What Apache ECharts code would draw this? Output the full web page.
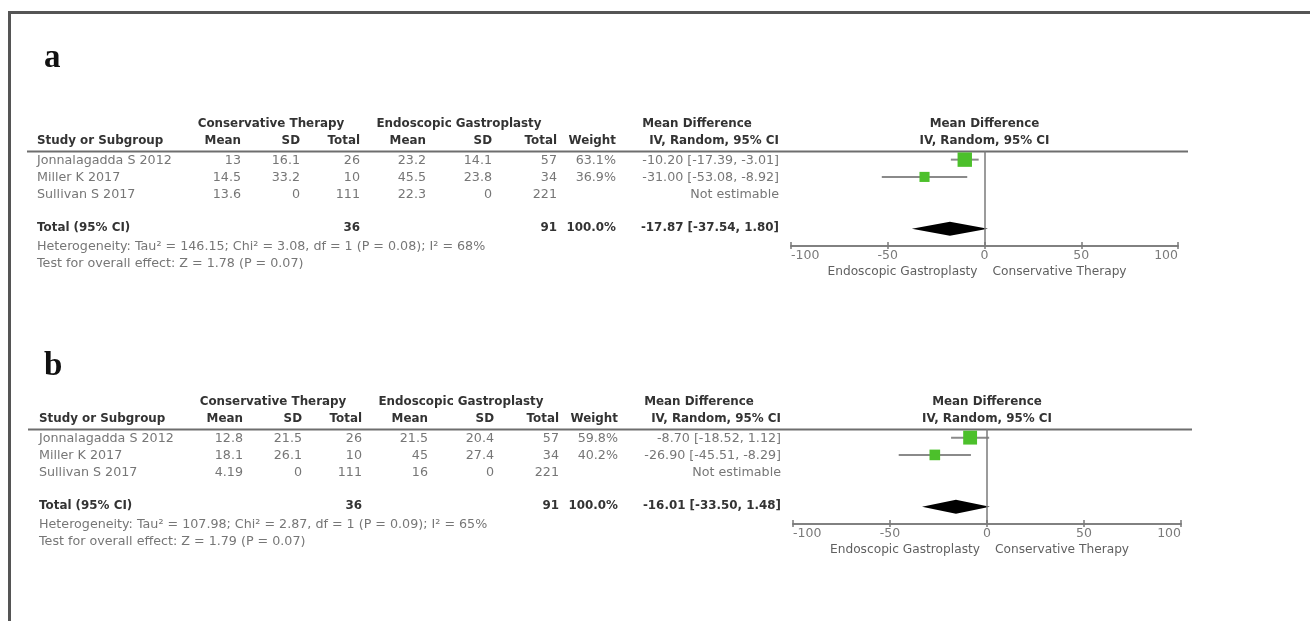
<!DOCTYPE html>
<html>
<head>
<meta charset="utf-8">
<title>Forest plots</title>
<script src="https://cdn.jsdelivr.net/npm/echarts@6/dist/echarts.min.js"></script>
<style>
  html, body { margin: 0; padding: 0; background: #ffffff; }
  #chart { width: 1310px; height: 621px; }
</style>
</head>
<body>
<div id="chart"></div>
<script>
// ---- study data ----
const studies = ['Jonnalagadda S 2012', 'Miller K 2017', 'Sullivan S 2017'];
const consTotal = [26, 10, 111];
const endoTotal = [57, 34, 221];
const axisTicks = [-100, -50, 0, 50, 100];

// panel a
const consMeanA = ['13', '14.5', '13.6'];
const consSdA = ['16.1', '33.2', '0'];
const endoMeanA = ['23.2', '45.5', '22.3'];
const endoSdA = ['14.1', '23.8', '0'];
const weightA = [63.1, 36.9, null];
const mdA = [-10.20, -31.00, null];
const loA = [-17.39, -53.08, null];
const hiA = [-3.01, -8.92, null];
const pooledA = [-17.87, -37.54, 1.80];
const hetA = 'Heterogeneity: Tau² = 146.15; Chi² = 3.08, df = 1 (P = 0.08); I² = 68%';
const testA = 'Test for overall effect: Z = 1.78 (P = 0.07)';

// panel b
const consMeanB = ['12.8', '18.1', '4.19'];
const consSdB = ['21.5', '26.1', '0'];
const endoMeanB = ['21.5', '45', '16'];
const endoSdB = ['20.4', '27.4', '0'];
const weightB = [59.8, 40.2, null];
const mdB = [-8.70, -26.90, null];
const loB = [-18.52, -45.51, null];
const hiB = [1.12, -8.29, null];
const pooledB = [-16.01, -33.50, 1.48];
const hetB = 'Heterogeneity: Tau² = 107.98; Chi² = 2.87, df = 1 (P = 0.09); I² = 65%';
const testB = 'Test for overall effect: Z = 1.79 (P = 0.07)';

const panels = [
  { letter: 'a', consMean: consMeanA, consSd: consSdA, endoMean: endoMeanA, endoSd: endoSdA,
    weight: weightA, md: mdA, lo: loA, hi: hiA, pooled: pooledA, het: hetA, test: testA,
    dx: 0, dy: 0, letterY: 58, line: [27, 1188, 151], grid: { left: 791, width: 387, top: 151, height: 95 } },
  { letter: 'b', consMean: consMeanB, consSd: consSdB, endoMean: endoMeanB, endoSd: endoSdB,
    weight: weightB, md: mdB, lo: loB, hi: hiB, pooled: pooledB, het: hetB, test: testB,
    dx: 2, dy: 278, letterY: 366, line: [28, 1192, 429], grid: { left: 793, width: 388, top: 429, height: 95 } }
];

// ---- styles ----
const FONT = "'DejaVu Sans', 'Open Sans', sans-serif";
const DATA_FONT = '12.7px ' + FONT;
const BOLD_FONT = 'bold 11.9px ' + FONT;
const NAME_FONT = '12.2px ' + FONT;
const GREY = '#767676';
const DARK = '#333333';
const BOX_GREEN = '#4cc02b';

function txt(text, x, y, align, font, fill) {
  return {
    type: 'text', x: x, y: y, silent: true,
    style: { text: text, font: font, fill: fill, textAlign: align, textVerticalAlign: 'middle' }
  };
}

const fmt = v => v.toFixed(2);
const ciText = (m, l, h) => fmt(m) + ' [' + fmt(l) + ', ' + fmt(h) + ']';

const graphics = [];
// outer frame (top and left edges)
graphics.push({
  type: 'polyline', silent: true,
  shape: { points: [[9.5, 621], [9.5, 12.5], [1310, 12.5]] },
  style: { stroke: '#555555', lineWidth: 3, fill: null }
});

// table columns: right edges
const col = { cMean: 241, cSd: 300, cTot: 360, eMean: 426, eSd: 492, eTot: 557, wt: 616, ci: 779 };
const rowY = [161, 178, 195];

panels.forEach(function (p) {
  const X = v => v + p.dx;
  const Y = v => v + p.dy;
  graphics.push({
    type: 'text', x: 44, y: p.letterY, silent: true,
    style: { text: p.letter, font: 'bold 33px "Liberation Serif", serif', fill: '#111', textAlign: 'left', textVerticalAlign: 'middle' }
  });
  // headers
  graphics.push(txt('Conservative Therapy', X(271), Y(124), 'center', BOLD_FONT, DARK));
  graphics.push(txt('Endoscopic Gastroplasty', X(459), Y(124), 'center', BOLD_FONT, DARK));
  graphics.push(txt('Mean Difference', X(697), Y(124), 'center', BOLD_FONT, DARK));
  graphics.push(txt('Mean Difference', p.grid.left + p.grid.width / 2, Y(124), 'center', BOLD_FONT, DARK));
  graphics.push(txt('Study or Subgroup', X(37), Y(141), 'left', BOLD_FONT, DARK));
  graphics.push(txt('Mean', X(col.cMean), Y(141), 'right', BOLD_FONT, DARK));
  graphics.push(txt('SD', X(col.cSd), Y(141), 'right', BOLD_FONT, DARK));
  graphics.push(txt('Total', X(col.cTot), Y(141), 'right', BOLD_FONT, DARK));
  graphics.push(txt('Mean', X(col.eMean), Y(141), 'right', BOLD_FONT, DARK));
  graphics.push(txt('SD', X(col.eSd), Y(141), 'right', BOLD_FONT, DARK));
  graphics.push(txt('Total', X(col.eTot), Y(141), 'right', BOLD_FONT, DARK));
  graphics.push(txt('Weight', X(col.wt), Y(141), 'right', BOLD_FONT, DARK));
  graphics.push(txt('IV, Random, 95% CI', X(col.ci), Y(141), 'right', BOLD_FONT, DARK));
  graphics.push(txt('IV, Random, 95% CI', p.grid.left + p.grid.width / 2, Y(141), 'center', BOLD_FONT, DARK));
  // rule under headers
  graphics.push({
    type: 'line', silent: true,
    shape: { x1: p.line[0], y1: p.line[2] + 0.5, x2: p.line[1], y2: p.line[2] + 0.5 },
    style: { stroke: '#6e6e6e', lineWidth: 2 }
  });
  // study rows
  studies.forEach(function (s, i) {
    const y = Y(rowY[i]);
    graphics.push(txt(s, X(37), y, 'left', DATA_FONT, GREY));
    graphics.push(txt(p.consMean[i], X(col.cMean), y, 'right', DATA_FONT, GREY));
    graphics.push(txt(p.consSd[i], X(col.cSd), y, 'right', DATA_FONT, GREY));
    graphics.push(txt(String(consTotal[i]), X(col.cTot), y, 'right', DATA_FONT, GREY));
    graphics.push(txt(p.endoMean[i], X(col.eMean), y, 'right', DATA_FONT, GREY));
    graphics.push(txt(p.endoSd[i], X(col.eSd), y, 'right', DATA_FONT, GREY));
    graphics.push(txt(String(endoTotal[i]), X(col.eTot), y, 'right', DATA_FONT, GREY));
    if (p.weight[i] != null) {
      graphics.push(txt(p.weight[i].toFixed(1) + '%', X(col.wt), y, 'right', DATA_FONT, GREY));
      graphics.push(txt(ciText(p.md[i], p.lo[i], p.hi[i]), X(col.ci), y, 'right', DATA_FONT, GREY));
    } else {
      graphics.push(txt('Not estimable', X(col.ci), y, 'right', DATA_FONT, GREY));
    }
  });
  // pooled row
  const sumC = consTotal.slice(0, 2).reduce((a, b) => a + b, 0);
  const sumE = endoTotal.slice(0, 2).reduce((a, b) => a + b, 0);
  const wSum = p.weight.filter(w => w != null).reduce((a, b) => a + b, 0);
  graphics.push(txt('Total (95% CI)', X(37), Y(228), 'left', BOLD_FONT, DARK));
  graphics.push(txt(String(sumC), X(col.cTot), Y(228), 'right', BOLD_FONT, DARK));
  graphics.push(txt(String(sumE), X(col.eTot), Y(228), 'right', BOLD_FONT, DARK));
  graphics.push(txt(wSum.toFixed(1) + '%', X(col.wt), Y(228), 'right', BOLD_FONT, DARK));
  graphics.push(txt(ciText(p.pooled[0], p.pooled[1], p.pooled[2]), X(col.ci), Y(228), 'right', BOLD_FONT, DARK));
  graphics.push(txt(p.het, X(37), Y(247), 'left', DATA_FONT, GREY));
  graphics.push(txt(p.test, X(37), Y(264), 'left', DATA_FONT, GREY));
  // favours labels under the axis
  const zeroX = p.grid.left + p.grid.width / 2;
  graphics.push(txt('Endoscopic Gastroplasty', zeroX - 7, Y(272), 'right', NAME_FONT, '#606060'));
  graphics.push(txt('Conservative Therapy', zeroX + 8, Y(272), 'left', NAME_FONT, '#606060'));
});

// ---- axes and series ----
const grids = [], xAxes = [], yAxes = [], series = [];
panels.forEach(function (p, g) {
  grids.push({ left: p.grid.left, top: p.grid.top, width: p.grid.width, height: p.grid.height, containLabel: false });
  const axisBase = {
    type: 'value', gridIndex: g, min: axisTicks[0], max: axisTicks[axisTicks.length - 1],
    interval: axisTicks[1] - axisTicks[0], position: 'bottom', offset: 0,
    splitLine: { show: false },
    axisLine: { show: true, onZero: false, lineStyle: { color: '#7a7a7a', width: 1.5 } }
  };
  xAxes.push(Object.assign({}, axisBase, {
    axisTick: { show: true, inside: true, length: 4, lineStyle: { color: '#7a7a7a', width: 1.5 } },
    axisLabel: { show: true, margin: 3, color: '#7a7a7a', fontFamily: FONT, fontSize: 12.5,
      alignMinLabel: 'left', alignMaxLabel: 'right' }
  }));
  xAxes.push(Object.assign({}, axisBase, {
    axisTick: { show: true, inside: false, length: 3, lineStyle: { color: '#7a7a7a', width: 1.5 } },
    axisLabel: { show: false }
  }));
  yAxes.push({
    type: 'value', gridIndex: g, inverse: true, min: 0.5, max: 6,
    show: false, splitLine: { show: false }
  });

  const ciData = [], boxData = [];
  p.md.forEach(function (m, i) {
    if (m == null) return;
    ciData.push([p.lo[i], p.hi[i], i + 1]);
    boxData.push([m, i + 1, p.weight[i]]);
  });
  series.push({
    type: 'custom', xAxisIndex: 2 * g, yAxisIndex: g, data: ciData, z: 2,
    encode: { x: [0, 1], y: 2 },
    renderItem: function (params, api) {
      const a = api.coord([api.value(0), api.value(2)]);
      const b = api.coord([api.value(1), api.value(2)]);
      return { type: 'line', shape: { x1: a[0], y1: a[1], x2: b[0], y2: b[1] },
        style: { stroke: '#8a8a8a', lineWidth: 2 } };
    },
    markLine: {
      silent: true, symbol: ['none', 'none'], label: { show: false },
      lineStyle: { color: '#7a7a7a', width: 1.5, type: 'solid' },
      data: [{ xAxis: 0 }]
    }
  });
  series.push({
    type: 'scatter', xAxisIndex: 2 * g, yAxisIndex: g, data: boxData, z: 3,
    symbol: 'rect', symbolSize: v => 4 + v[2] * 0.165,
    itemStyle: { color: BOX_GREEN, opacity: 1 }
  });
  series.push({
    type: 'custom', xAxisIndex: 2 * g, yAxisIndex: g, z: 3,
    data: [[p.pooled[1], p.pooled[2], 5, p.pooled[0]]],
    encode: { x: [0, 1, 3], y: 2 },
    renderItem: function (params, api) {
      const y = api.value(2);
      const l = api.coord([api.value(0), y]);
      const r = api.coord([api.value(1), y]);
      const c = api.coord([api.value(3), y]);
      return { type: 'polygon',
        shape: { points: [[l[0], l[1]], [c[0], c[1] - 7], [r[0], r[1]], [c[0], c[1] + 7]] },
        style: { fill: '#000000' } };
    }
  });
});

const chart = echarts.init(document.getElementById('chart'), null, { renderer: 'canvas' });
chart.setOption({
  animation: false,
  backgroundColor: '#ffffff',
  grid: grids,
  xAxis: xAxes,
  yAxis: yAxes,
  series: series,
  graphic: graphics
});
</script>
</body>
</html>
